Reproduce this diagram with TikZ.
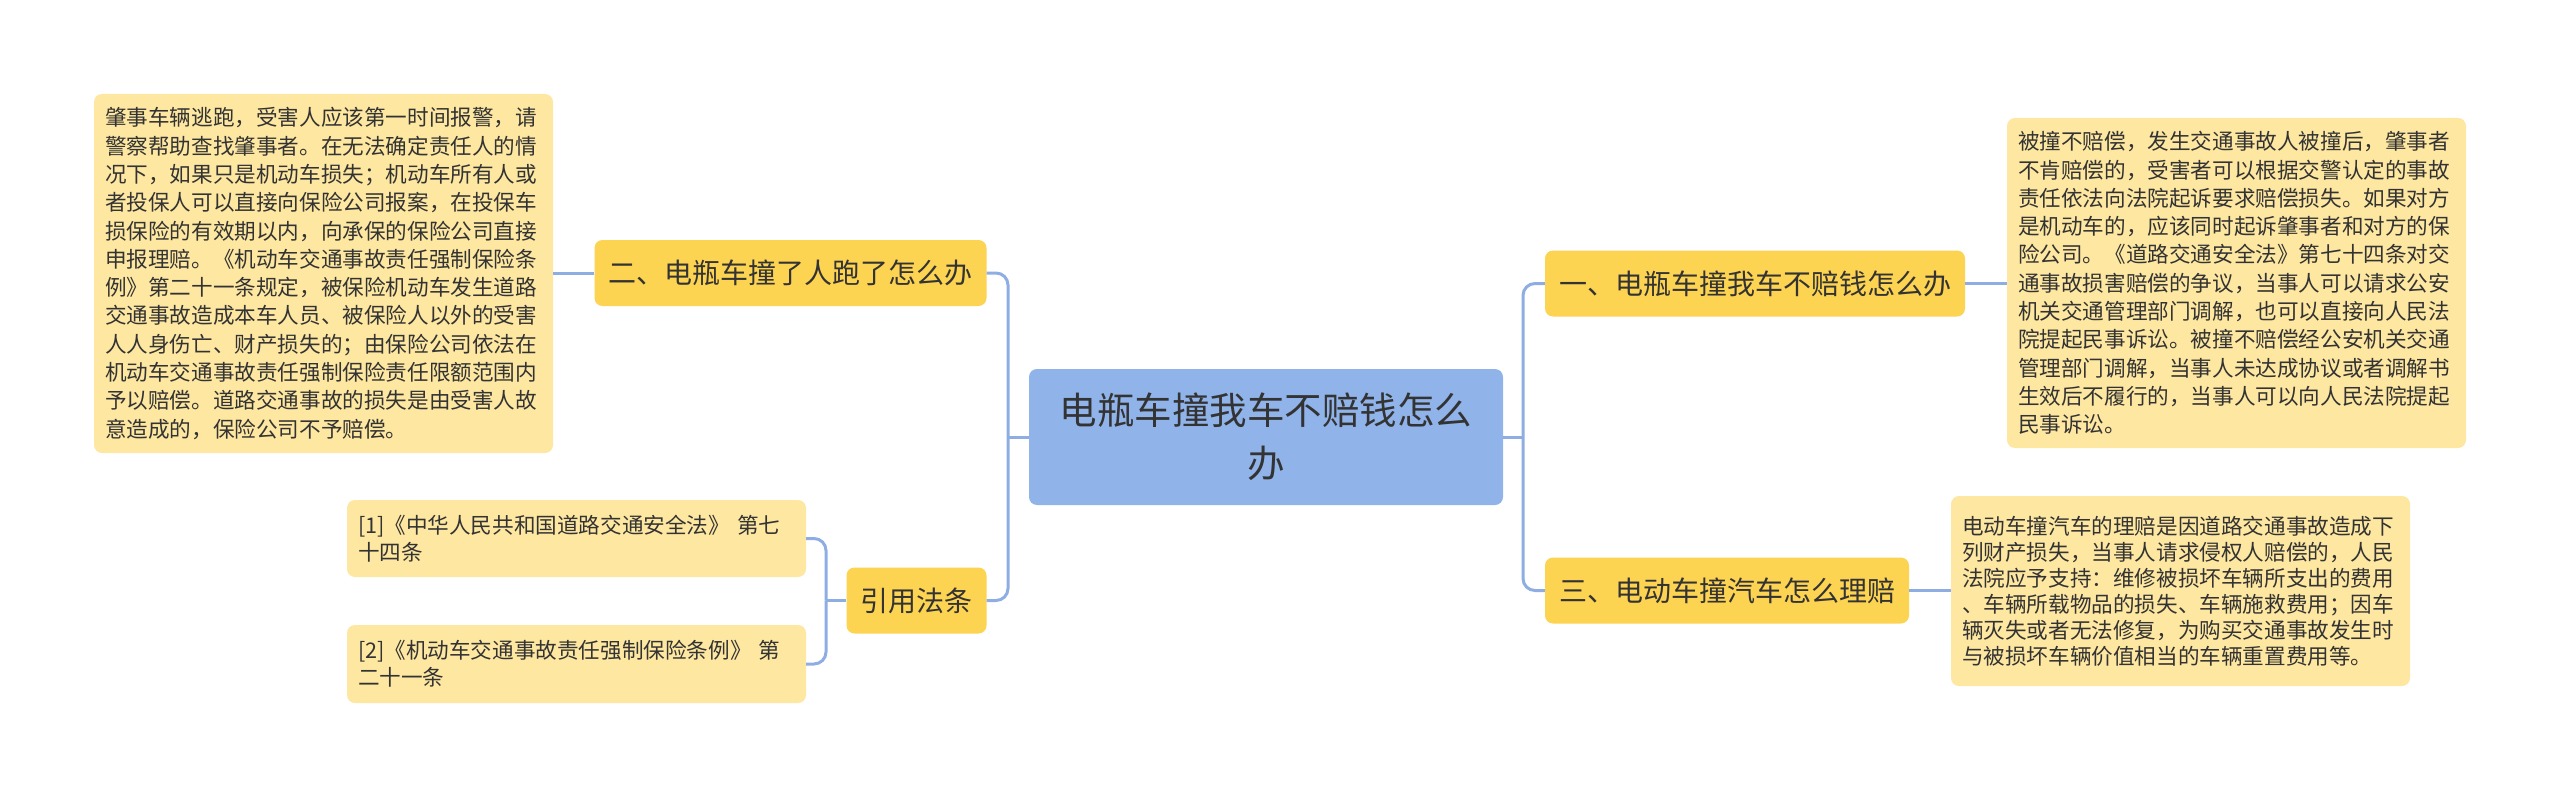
\documentclass[tikz,border=0pt]{standalone}
\usepackage{fontspec}
\setmainfont{Noto Sans CJK SC}
\usepackage{tikz}
\definecolor{linkblue}{HTML}{8EAEE3}
\definecolor{rootblue}{HTML}{90B3EA}
\definecolor{topicyellow}{HTML}{FDD352}
\definecolor{leafyellow}{HTML}{FDE7A1}
\definecolor{inkgray}{HTML}{333333}
\tikzset{
  root box/.style={
    rectangle, rounded corners=8pt, fill=rootblue, draw=none, text=inkgray,
    align=center, inner sep=0pt, minimum width=474pt, minimum height=136pt,
    font=\fontsize{37.5}{53}\selectfont
  },
  topic box/.style={
    rectangle, rounded corners=8pt, fill=topicyellow, draw=none, text=inkgray,
    inner xsep=14pt, inner ysep=0pt, minimum height=66pt,
    font=\fontsize{28}{34}\selectfont
  },
  leaf box/.style={
    rectangle, rounded corners=8pt, fill=leafyellow, draw=none, text=inkgray,
    align=left, text width=437pt, inner xsep=11pt, inner ysep=0pt,
    font=\fontsize{21.6}{28.3}\selectfont
  },
  link/.style={
    draw=linkblue, line width=3pt, rounded corners=12pt
  }
}

\begin{document}
\begin{tikzpicture}[x=1pt, y=-1pt]
\useasboundingbox (0,0) rectangle (2560,797);

% ---------------------------
% 中心主题
% ---------------------------
\node[root box] (root) at (1266,437) {电瓶车撞我车不赔钱怎么\\办};

% ---------------------------
% 左侧：二、引用法条
% ---------------------------
\node[topic box] (er) at (790.5,273) {二、电瓶车撞了人跑了怎么办};
\node[topic box] (yin) at (916.5,600.5) {引用法条};

\node[leaf box, minimum height=359pt] (erT) at (323.5,273.5) {%
肇事车辆逃跑，受害人应该第一时间报警，请\\
警察帮助查找肇事者。在无法确定责任人的情\\
况下，如果只是机动车损失；机动车所有人或\\
者投保人可以直接向保险公司报案，在投保车\\
损保险的有效期以内，向承保的保险公司直接\\
申报理赔。《机动车交通事故责任强制保险条\\
例》第二十一条规定，被保险机动车发生道路\\
交通事故造成本车人员、被保险人以外的受害\\
人人身伤亡、财产损失的；由保险公司依法在\\
机动车交通事故责任强制保险责任限额范围内\\
予以赔偿。道路交通事故的损失是由受害人故\\
意造成的，保险公司不予赔偿。};

\node[leaf box, minimum height=77pt, font=\fontsize{21.6}{26.7}\selectfont] (ref1) at (576.5,538.5) {%
[1]《中华人民共和国道路交通安全法》 第七\\
十四条};
\node[leaf box, minimum height=78pt, font=\fontsize{21.6}{26.7}\selectfont] (ref2) at (576.5,664) {%
[2]《机动车交通事故责任强制保险条例》 第\\
二十一条};

% ---------------------------
% 右侧：一、三
% ---------------------------
\node[topic box] (yi) at (1755,283.5) {一、电瓶车撞我车不赔钱怎么办};
\node[topic box] (san) at (1727,590.5) {三、电动车撞汽车怎么理赔};

\node[leaf box, minimum height=330pt] (yiT) at (2236.5,283) {%
被撞不赔偿，发生交通事故人被撞后，肇事者\\
不肯赔偿的，受害者可以根据交警认定的事故\\
责任依法向法院起诉要求赔偿损失。如果对方\\
是机动车的，应该同时起诉肇事者和对方的保\\
险公司。《道路交通安全法》第七十四条对交\\
通事故损害赔偿的争议，当事人可以请求公安\\
机关交通管理部门调解，也可以直接向人民法\\
院提起民事诉讼。被撞不赔偿经公安机关交通\\
管理部门调解，当事人未达成协议或者调解书\\
生效后不履行的，当事人可以向人民法院提起\\
民事诉讼。};

\node[leaf box, minimum height=190pt, font=\fontsize{21.6}{26}\selectfont] (sanT) at (2180.5,591) {%
电动车撞汽车的理赔是因道路交通事故造成下\\
列财产损失，当事人请求侵权人赔偿的，人民\\
法院应予支持：维修被损坏车辆所支出的费用\\
、车辆所载物品的损失、车辆施救费用；因车\\
辆灭失或者无法修复，为购买交通事故发生时\\
与被损坏车辆价值相当的车辆重置费用等。};

% ---------------------------
% 连线
% ---------------------------
\coordinate (lbus) at (1008,437);
\coordinate (rbus) at (1523,437);
\coordinate (ybus) at (826,600.5);

\draw[link] (root.west) -- (lbus);
\draw[link] (lbus) |- (er.east);
\draw[link] (lbus) |- (yin.east);
\draw[link] (root.east) -- (rbus);
\draw[link] (rbus) |- (yi.west);
\draw[link] (rbus) |- (san.west);

\draw[link] (er.west) -- (erT.east |- er.west);
\draw[link] (yi.east) -- (yiT.west |- yi.east);
\draw[link] (san.east) -- (sanT.west |- san.east);

\draw[link] (yin.west) -- (ybus);
\draw[link] (ybus) |- (ref1.east);
\draw[link] (ybus) |- (ref2.east);

%
\end{tikzpicture}
\end{document}
